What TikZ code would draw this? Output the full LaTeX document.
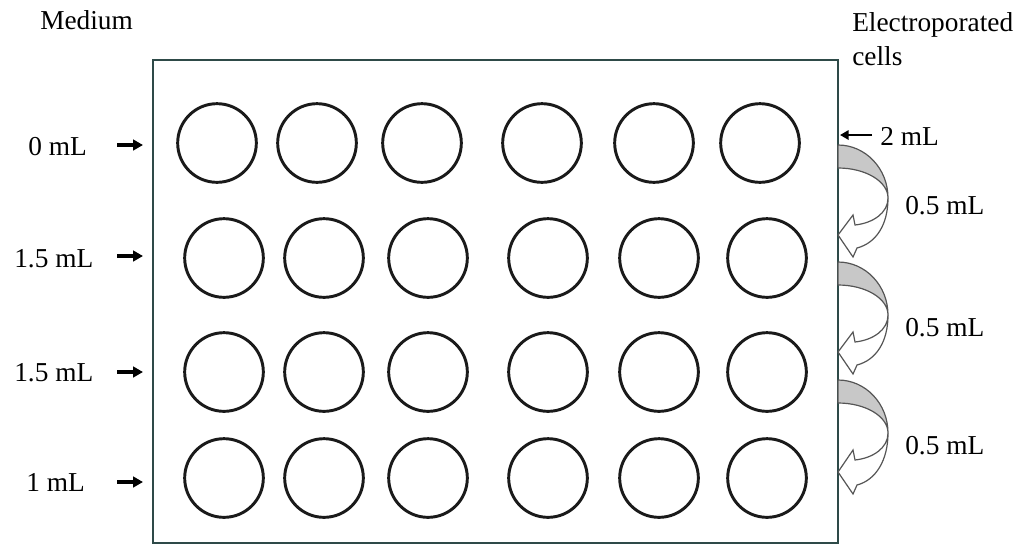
\documentclass[tikz,border=0pt]{standalone}
\usepackage{fontspec}
\setmainfont{Liberation Serif}
\usetikzlibrary{arrows.meta}
\definecolor{platec}{HTML}{2E4A48}
\definecolor{wellc}{HTML}{1A1A1A}
\definecolor{bandc}{HTML}{C8C8C8}
\definecolor{ribc}{HTML}{555555}
\tikzset{
  lbl/.style={anchor=base west, inner sep=0pt, font=\fontsize{20.5pt}{24pt}\selectfont},
  well/.style={circle, draw=wellc, line width=2.2pt, minimum size=59pt, inner sep=0pt},
  plate/.style={draw=platec, line width=2pt, minimum width=513.75pt, minimum height=362.25pt, inner sep=0pt},
  inarrow/.style={line width=2.6pt, -{Triangle[length=7.5pt,width=8pt]}},
  band/.style={fill=bandc, draw=ribc, line width=0.9pt, line join=round},
  ribbon/.style={fill=white, draw=ribc, line width=0.9pt, line join=miter},
}
\newcommand{\ribbonarrow}[2]{%
  \begin{scope}[shift={(838,#1)}]
    \path[band] (0,0) .. controls (27.6,0) and (50,23.7) .. (50,53)
       .. controls (50,36.4) and (27.6,23) .. (0,23) -- cycle;
    \path[ribbon] (50,53) .. controls (50,68) and (35,78) .. (17,80)
       -- (15,70) -- (0,#2) -- (15,{#2+22}) -- (19,{#2+13})
       .. controls (38,{#2+8}) and (50,80) .. (50,53) -- cycle;
  \end{scope}}
\begin{document}
\begin{tikzpicture}[x=0.75pt, y=-0.75pt]
\useasboundingbox (0,0) rectangle (1019,544);
% plate
\node[plate] (plate) at ({(153+838)/2},{(60+543)/2}) {};
% wells
\foreach \x [count=\c] in {217,317,422,542,654,760}
  \node[well] (w1\c) at (\x,143) {};
\foreach \r/\y in {2/258,3/372,4/478}
  \foreach \x [count=\c] in {224,324,428,548,659,767}
    \node[well] (w\r\c) at (\x,\y) {};
% left labels
\node[lbl] (medium) at (40,29) {Medium};
\node[lbl] (m1) at (28,155) {0 mL};
\node[lbl] (m2) at (14,267) {1.5 mL};
\node[lbl] (m3) at (14,381) {1.5 mL};
\node[lbl] (m4) at (26,491) {1 mL};
\coordinate (s1) at (117,145); \coordinate (p1) at (143,145);
\coordinate (s2) at (117,256); \coordinate (p2) at (143,256);
\coordinate (s3) at (117,372); \coordinate (p3) at (143,372);
\coordinate (s4) at (117,482); \coordinate (p4) at (143,482);
\draw[inarrow] (s1) -- (p1);
\draw[inarrow] (s2) -- (p2);
\draw[inarrow] (s3) -- (p3);
\draw[inarrow] (s4) -- (p4);
% right labels
\node[lbl] (ep) at (852,31) {Electroporated};
\node[lbl] (cells) at (852,65) {cells};
\node[lbl] (two) at (880,145) {2 mL};
\coordinate (t0) at (872,135); \coordinate (t1) at (840,135);
\draw[line width=2.2pt, -{Triangle[length=6.5pt,width=7pt]}] (t0) -- (t1);
% ribbon arrows
\ribbonarrow{145}{90}
\ribbonarrow{262}{90}
\ribbonarrow{380}{92}
\node[lbl] (h1) at (905,214) {0.5 mL};
\node[lbl] (h2) at (905,336) {0.5 mL};
\node[lbl] (h3) at (905,454) {0.5 mL};
\end{tikzpicture}
\end{document}
